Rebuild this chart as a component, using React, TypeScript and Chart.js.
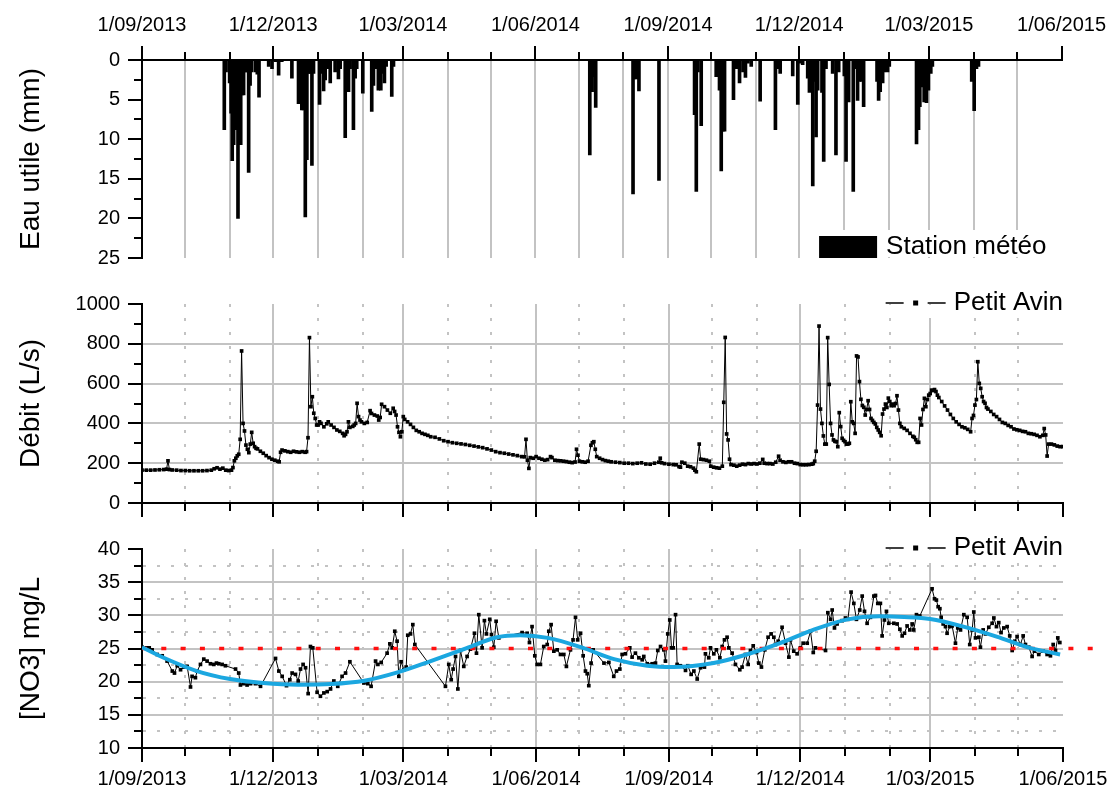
import React, { useEffect, useRef } from 'react';
import { Chart, registerables } from 'chart.js';

Chart.register(...registerables);

// ---------------- data (x = days since 1/09/2013) ----------------
const tickDays = [0, 30, 61, 91, 122, 153, 181, 212, 242, 273, 303, 334, 365, 395, 426, 456, 487, 518, 546, 577, 607, 638];
const tickLabels = ['1/09/2013', '', '', '1/12/2013', '', '', '1/03/2014', '', '', '1/06/2014', '', '', '1/09/2014', '', '', '1/12/2014', '', '', '1/03/2015', '', '', '1/06/2015'];

const rainDays = [57.1, 58.3, 60.8, 61.8, 62.6, 63.6, 64.5, 65.5, 66.6, 67.5, 68.5, 69.4, 70.5, 71.7, 72.6, 74, 75, 76, 78.7, 80, 81.2, 87.9, 90.2, 92.5, 94.8, 97, 104, 108.6, 109.8, 110.9, 112, 113.3, 114.4, 115.6, 116.7, 117.9, 119, 123.2, 124.3, 126, 127.1, 129.4, 130.6, 134, 136.3, 137.5, 141, 142.2, 143.3, 144.4, 146.7, 147.9, 149, 153.2, 159.4, 160.6, 162.4, 164, 165.7, 167.1, 168.2, 169.4, 173.3, 174.5,
  310.7, 312.3, 313.4, 314.8, 340.7, 341.8, 343, 344.8, 358.7, 383.4, 384.6, 385.7, 388, 398.4, 399.6, 400.7, 401.9, 403, 404.2, 410.4, 412.3, 414.6, 417, 418.7, 420.4, 422.7, 428.9, 439.5, 441.1, 442.8, 451.5, 455, 456.1, 458.4, 461.9, 463.1, 464.2, 465.4, 466.5, 467.7, 468.8, 471.8, 473, 474.6, 479.2, 481.5, 483.4, 487.3, 488.5, 490.3, 493.5, 494.9, 496.5, 497.7, 499.5, 500.7, 510, 511.1, 512.2, 513.9, 515, 517.3, 518.5, 537.4, 538.8, 539.7, 541.1, 542.7, 544.3, 545.7, 547.3, 548.4, 575.7, 577.4, 579, 580.4];
const rainMm = [8.8, 1.5, 2.9, 6.7, 12.7, 10.7, 8.8, 8.8, 20.0, 7.2, 10.7, 4.4, 4.4, 1.5, 1.5, 14.2, 3.2, 1.5, 1.5, 1.8, 4.7, 0.8, 1.1, 0.2, 1.9, 0.2, 2.3, 5.5, 4.4, 6.3, 6.3, 19.8, 12.6, 1.7, 1.7, 13.3, 1.7, 5.6, 1.7, 3.9, 2.5, 1.1, 2.9, 1.5, 2.4, 1.1, 9.8, 1.1, 4.0, 1.1, 8.8, 2.3, 1.1, 4.2, 6.5, 3.2, 1.1, 3.8, 3.8, 1.7, 2.9, 0.8, 4.6, 0.8,
  12.0, 4.0, 2.1, 6.0, 16.9, 2.4, 2.4, 3.9, 15.2, 6.9, 16.6, 1.5, 8.3, 2.1, 2.1, 3.8, 14.0, 9.0, 9.0, 5.0, 1.1, 2.9, 1.5, 2.2, 0.4, 0.8, 5.2, 8.8, 1.1, 1.7, 2.0, 5.6, 0.4, 0.6, 2.3, 4.1, 1.7, 15.9, 2.7, 9.7, 3.8, 4.1, 12.8, 1.1, 1.7, 12.0, 1.5, 2.0, 12.8, 5.3, 16.6, 1.1, 5.1, 2.7, 2.7, 5.9, 2.7, 5.1, 4.0, 2.9, 1.5, 1.5, 0.8, 10.6, 8.8, 5.9, 3.4, 5.3, 5.4, 3.8, 1.7, 0.8, 2.7, 6.4, 1.1, 0.8];
const rainTicks = [0, 2.5, 5, 7.5, 10, 12.5, 15, 17.5, 20, 22.5, 25];

const flowDays = [0, 3, 6, 9, 12, 15, 17, 18, 19, 21, 24, 27, 30, 33, 36, 39, 42, 45, 48, 50, 52, 54, 56, 58, 60, 62, 63, 64, 65, 66, 67, 68, 69, 70, 71, 72, 73, 74, 75, 76, 77, 78, 79, 80, 82, 84, 86, 88, 90, 92, 94, 95, 96, 97, 99, 101, 103, 105, 107, 109, 111, 113, 114, 115, 116, 117, 118, 119, 120, 121, 122, 123, 124, 126, 128, 129, 131, 133, 135, 137, 139, 140, 141, 142, 143, 144, 146, 147, 148, 149, 150, 151, 152, 154, 156, 158, 159, 161, 163, 164, 165, 166, 168, 170, 172, 174, 175, 176, 177, 178, 179, 180, 181, 182, 184, 186, 188, 190, 192, 194, 196, 198, 200, 203, 206, 209, 212, 215, 218, 221, 224, 227, 230, 233, 236, 239, 242, 245, 248, 251, 254, 257, 260, 263, 265, 266, 267, 268, 269, 271, 273, 275, 277, 279, 281, 283, 284, 286, 288, 290, 292, 294, 296, 298, 300, 301, 302, 303, 305, 307, 309, 311, 312, 313, 314, 315, 317, 319, 321, 323, 325, 328, 331, 334, 337, 340, 343, 346, 349, 352, 355, 358, 359, 360, 362, 365, 368, 370, 372, 373, 374, 376, 378, 380, 382, 383, 384, 386, 387, 389, 391, 393, 394, 396, 398, 400, 402, 403, 404, 405, 406, 407, 408, 410, 412, 414, 416, 418, 420, 422, 424, 426, 428, 430, 431, 433, 435, 437, 439, 441, 442, 444, 446, 448, 450, 452, 454, 456, 458, 460, 462, 464, 465, 466, 467, 468, 469, 470, 471, 472, 473, 474, 475, 476, 477, 478, 479, 480, 481, 482, 483, 484, 485, 486, 487, 488, 489, 490, 491, 492, 493, 494, 495, 496, 497, 498, 499, 500, 501, 502, 503, 504, 505, 506, 507, 508, 509, 510, 511, 512, 513, 514, 515, 516, 517, 518, 519, 520, 521, 522, 523, 524, 525, 526, 528, 530, 532, 534, 535, 536, 537, 538, 539, 540, 541, 542, 543, 544, 545, 546, 547, 548, 549, 550, 551, 552, 554, 556, 558, 560, 562, 564, 566, 568, 570, 572, 574, 575, 576, 577, 578, 579, 580, 581, 582, 583, 584, 585, 586, 588, 590, 592, 594, 596, 598, 600, 602, 604, 606, 608, 610, 612, 614, 616, 618, 620, 622, 624, 625, 626, 627, 628, 630, 632, 634, 636, 638];
const flowLs = [165, 165, 165, 166, 167, 168, 170, 212, 168, 166, 165, 163, 163, 162, 162, 162, 162, 163, 165, 172, 177, 170, 175, 165, 163, 165, 178, 212, 225, 237, 245, 320, 764, 400, 362, 291, 270, 253, 296, 355, 300, 283, 275, 272, 260, 250, 238, 228, 220, 215, 210, 207, 255, 266, 262, 258, 255, 260, 257, 255, 258, 255, 258, 328, 831, 484, 534, 451, 425, 392, 392, 408, 400, 383, 398, 408, 392, 380, 367, 360, 350, 338, 345, 358, 408, 380, 385, 392, 400, 501, 434, 417, 408, 400, 405, 464, 450, 442, 437, 417, 430, 496, 484, 467, 451, 476, 460, 442, 383, 355, 333, 358, 434, 420, 408, 395, 380, 365, 358, 350, 345, 340, 333, 330, 322, 313, 308, 303, 300, 297, 294, 290, 286, 282, 278, 272, 266, 258, 253, 250, 246, 242, 238, 233, 232, 320, 215, 174, 228, 225, 233, 225, 220, 215, 218, 233, 228, 215, 213, 212, 210, 208, 205, 203, 206, 270, 240, 210, 207, 205, 210, 290, 303, 308, 270, 233, 225, 218, 213, 210, 207, 205, 203, 200, 200, 198, 200, 202, 196, 195, 200, 205, 225, 202, 198, 195, 193, 192, 183, 180, 205, 200, 185, 182, 175, 165, 157, 296, 220, 218, 215, 210, 185, 180, 177, 175, 185, 506, 832, 347, 317, 220, 193, 190, 185, 190, 195, 193, 198, 196, 198, 196, 200, 219, 200, 198, 198, 196, 205, 235, 215, 207, 204, 207, 207, 200, 198, 193, 192, 192, 193, 195, 198, 210, 260, 492, 889, 472, 400, 337, 296, 296, 831, 596, 400, 342, 317, 310, 308, 283, 454, 384, 325, 315, 308, 296, 296, 300, 509, 408, 400, 350, 739, 734, 610, 521, 490, 481, 442, 470, 514, 470, 425, 415, 405, 397, 380, 367, 355, 338, 447, 472, 497, 480, 527, 510, 489, 497, 489, 500, 539, 467, 400, 383, 375, 365, 350, 335, 330, 318, 305, 305, 425, 392, 470, 526, 484, 520, 542, 550, 567, 565, 570, 560, 542, 530, 510, 488, 467, 445, 425, 408, 395, 383, 378, 370, 358, 425, 440, 492, 520, 710, 601, 576, 534, 510, 501, 480, 472, 460, 445, 434, 420, 405, 400, 390, 383, 372, 368, 365, 360, 358, 350, 348, 345, 340, 333, 340, 374, 342, 236, 296, 296, 292, 286, 283, 283];
const flowTicks = [0, 100, 200, 300, 400, 500, 600, 700, 800, 900, 1000];

const no3Days = [0, 3, 5, 7, 10.5, 14, 17.4, 21, 22.5, 24.4, 26.7, 29, 31.3, 33.6, 34.7, 37, 38.2, 40.5, 42.8, 45.1, 47.4, 49.7, 51.6, 53.2, 55.5, 57.8, 64.8, 67, 68.2, 70.5, 72.8, 75.2, 78.6, 82.1, 92.5, 94.8, 97.1, 100.1, 102.4, 104, 106.3, 108.2, 109.8, 111.6, 113.3, 115.1, 116.7, 118.3, 121.3, 123.6, 126, 128.3, 130.6, 132.9, 135.6, 138.6, 141, 144, 153.7, 156.4, 158.7, 161.8, 163.4, 165.7, 169.8, 171.7, 173.3, 175.1, 176.7, 177.9, 179.5, 181.4, 183, 184.1, 186, 187.6, 189, 210.2, 212.5, 214.2, 215.5, 217.2, 218.8, 220.6, 222.9, 225.2, 227.5, 230.3, 231.7, 233.3, 235.6, 237.2, 238.6, 240.9, 242.1, 243.7, 245.3, 247.2, 263.3, 266.8, 268.4, 270.2, 272.1, 273.7, 276, 278.3, 280.7, 281.8, 283.4, 285.3, 287.6, 289.9, 292.2, 294, 296.8, 298.6, 300.3, 301.8, 303.8, 305.6, 307.2, 308.4, 309.5, 311.1, 312.5, 320, 323.4, 326.8, 328.7, 331, 332.6, 334.9, 337.9, 339.5, 341.8, 344.2, 346.5, 347.6, 350, 353.4, 355.7, 357.3, 359.2, 361.5, 362.6, 364.2, 365.6, 366.8, 368, 369.6, 370.7, 373, 376.5, 378.1, 380.4, 382.3, 384.6, 386.9, 389.6, 390.3, 392.6, 393.8, 396.1, 397.9, 400.3, 401.9, 403.5, 405.3, 406.5, 408.8, 411.1, 414.1, 415.7, 418, 419.9, 421.5, 423.4, 425.7, 427.3, 429.1, 431.4, 433.7, 435.8, 437.7, 438.8, 440.7, 443.4, 445.8, 448.1, 449.2, 451.5, 453.8, 456.1, 458, 460.8, 463.1, 465, 466.5, 473.5, 475.1, 477, 478.1, 479.7, 481.5, 485, 487.3, 489, 491.2, 493.1, 494.9, 497.2, 498.9, 500.5, 502.3, 504.6, 507, 508.1, 509.7, 511.5, 512.7, 514.3, 515.7, 517.3, 520.8, 523.1, 525, 526.6, 528.2, 530, 531.9, 533.5, 534.6, 536.5, 538.8, 547.3, 549, 550.3, 551.5, 552.7, 553.6, 555, 556.6, 557.7, 559.6, 561.2, 563.5, 565.1, 567, 569.3, 571.6, 573.4, 575.1, 576.2, 577.4, 579.7, 580.8, 582.7, 584.3, 586.6, 588.9, 590.1, 591.9, 593.5, 595.1, 597, 599.3, 601.1, 602.8, 604.6, 606.2, 608.5, 610.4, 612, 614.3, 616.6, 618.2, 621.2, 624.2, 627, 629.3, 631.2, 632.8, 634.4, 635.8];
const no3Vals = [25.2, 25.1, 25.1, 24.8, 24.1, 23.9, 23.1, 21.6, 21.3, 22.4, 21.8, 22.2, 22.3, 19.2, 20.8, 20.6, 21.6, 22.6, 23.4, 23.1, 22.7, 22.6, 22.8, 22.7, 22.6, 22.4, 21.9, 21.3, 19.5, 19.7, 19.5, 19.7, 19.7, 19.3, 23.5, 21.6, 20.8, 19.4, 20.3, 21.3, 21.1, 20.1, 21.9, 22.6, 22.1, 18.2, 25.3, 25.1, 18.4, 17.8, 18.3, 18.5, 18.9, 20.1, 19.3, 20.8, 21.3, 23.0, 19.8, 19.7, 19.3, 23.1, 22.6, 22.9, 24.3, 25.7, 25.1, 27.6, 26.1, 20.8, 23.0, 21.8, 22.2, 27.0, 27.2, 28.6, 25.6, 19.3, 22.6, 20.3, 21.9, 23.8, 18.9, 24.7, 22.3, 23.8, 24.9, 27.3, 24.3, 30.1, 25.1, 29.2, 27.2, 29.4, 27.1, 25.2, 29.1, 26.6, 27.4, 27.3, 25.9, 28.3, 23.9, 22.6, 22.6, 25.3, 25.6, 27.6, 28.6, 24.6, 24.8, 24.1, 24.1, 22.3, 24.8, 26.3, 29.7, 26.3, 27.3, 23.9, 21.6, 21.2, 19.4, 22.8, 24.8, 22.8, 22.9, 20.8, 21.6, 21.9, 24.1, 24.2, 25.1, 23.7, 24.3, 23.6, 23.3, 23.8, 22.7, 22.7, 22.8, 24.7, 25.3, 24.8, 23.1, 27.2, 29.3, 25.1, 25.1, 30.1, 22.6, 22.4, 21.7, 22.4, 21.1, 21.6, 20.4, 22.1, 22.2, 24.2, 23.6, 25.1, 24.2, 24.8, 23.6, 25.3, 26.3, 26.7, 25.1, 24.3, 22.6, 21.8, 22.2, 24.1, 22.6, 24.7, 25.4, 24.4, 22.8, 22.2, 24.8, 26.7, 27.2, 26.7, 25.6, 26.1, 28.2, 25.8, 23.7, 26.3, 24.6, 24.2, 25.1, 25.8, 25.8, 27.6, 24.4, 25.1, 24.7, 30.4, 29.4, 30.8, 28.1, 28.7, 29.2, 29.6, 29.4, 33.5, 31.8, 29.4, 30.8, 32.9, 30.6, 28.8, 29.7, 32.9, 33.0, 31.8, 31.8, 26.9, 29.3, 30.6, 28.8, 28.8, 28.7, 27.9, 26.9, 27.3, 28.4, 27.8, 28.7, 27.8, 30.1, 29.9, 34.0, 32.5, 32.3, 31.3, 31.0, 29.7, 28.7, 28.3, 27.3, 28.3, 28.4, 25.8, 28.1, 27.8, 30.1, 29.7, 25.6, 27.8, 30.5, 26.6, 26.7, 25.2, 27.8, 27.2, 28.2, 28.8, 29.6, 28.3, 28.9, 27.4, 28.1, 28.3, 26.9, 24.7, 26.1, 26.8, 25.6, 26.9, 25.6, 25.2, 23.8, 24.6, 24.1, 24.6, 24.1, 23.9, 25.6, 24.7, 26.6, 25.9];
const fitDays = [0, 15, 38, 61, 84, 108, 131, 154, 177, 200, 223, 246, 262, 281, 304, 327, 350, 368, 396, 419, 442, 465, 488, 511, 528, 546, 569, 592, 615, 636];
const fitVals = [25.2, 23.6, 21.6, 20.4, 19.8, 19.55, 19.65, 20.15, 21.4, 23.1, 24.9, 26.7, 27.0, 26.6, 25.2, 23.4, 22.4, 22.2, 22.8, 24.1, 25.8, 27.8, 29.35, 29.85, 29.75, 29.45, 28.3, 26.8, 25.1, 24.1];
const thresholdDays = [0, 664];
const thresholdVals = [25, 25];
const no3Ticks = [10, 12.5, 15, 17.5, 20, 22.5, 25, 27.5, 30, 32.5, 35, 37.5, 40];

// ---------------- styles ----------------
const FONT = '"Liberation Sans", Arial, sans-serif';
const GRID = '#c3c3c3';
const NONE = 'rgba(0,0,0,0)';
const DOT = [3, 11];
const W = 1115;
const H = 789;

const zip = (xs: number[], ys: number[]) => xs.map((x, i) => ({ x, y: ys[i] }));
const isMajorDay = (v: number) => {
  const i = tickDays.indexOf(v);
  return i >= 0 && tickLabels[i] !== '';
};

function xAxis(position: 'top' | 'bottom', labels: boolean, dotted: boolean, height: number, padding: number) {
  const major = (c: any) => !!c.tick && isMajorDay(c.tick.value);
  return {
    type: 'linear',
    position,
    min: 0,
    max: 638,
    offset: false,
    afterBuildTicks: (s: any) => { s.ticks = tickDays.map((v) => ({ value: v })); },
    afterFit: (s: any) => { s.height = height; },
    ticks: {
      display: labels,
      autoSkip: false,
      maxRotation: 0,
      minRotation: 0,
      padding,
      color: '#000',
      font: { family: FONT, size: 20 },
      callback: (v: number) => { const i = tickDays.indexOf(v); return i >= 0 ? tickLabels[i] : ''; },
    },
    grid: {
      offset: false,
      lineWidth: 2,
      color: (c: any) => (!c.tick || c.tick.value === 0 || c.tick.value === 638 ? NONE : GRID),
      tickLength: 14,
      tickWidth: 2,
      tickColor: '#000',
      tickBorderDash: (c: any) => (major(c) ? [] : position === 'top' ? [0, 6, 8, 100] : [7, 100]),
    },
    border: {
      display: true,
      color: '#000',
      width: 2,
      dash: (c: any) => (dotted && c.tick && !major(c) ? DOT : []),
    },
  };
}

function yAxis(opts: {
  title: string; min: number; max: number; ticks: number[]; reverse?: boolean;
  isMajor: (v: number) => boolean; gridColor: (v: number) => string; dotted: (v: number) => boolean; chartArea: boolean;
}) {
  return {
    type: 'linear',
    position: 'left',
    min: opts.min,
    max: opts.max,
    reverse: !!opts.reverse,
    afterBuildTicks: (s: any) => { s.ticks = opts.ticks.map((v) => ({ value: v })); },
    afterFit: (s: any) => { s.width = 142; },
    ticks: {
      autoSkip: false,
      padding: 8,
      color: '#000',
      font: { family: FONT, size: 20 },
      callback: (v: number) => (opts.isMajor(v) ? String(v) : ''),
    },
    grid: {
      drawOnChartArea: opts.chartArea,
      lineWidth: 2,
      color: (c: any) => (c.tick ? opts.gridColor(c.tick.value) : NONE),
      tickLength: 14,
      tickWidth: 2,
      tickColor: '#000',
      tickBorderDash: (c: any) => (c.tick && opts.isMajor(c.tick.value) ? [] : [0, 6, 8, 100]),
    },
    border: {
      display: true,
      color: '#000',
      width: 2,
      dash: (c: any) => (c.tick && opts.dotted(c.tick.value) ? DOT : []),
    },
    title: {
      display: true,
      text: opts.title,
      color: '#000',
      font: { family: FONT, size: 28 },
      padding: { top: 14, bottom: 0 },
    },
  };
}

function lineLegend(id: string, text: string) {
  return {
    id,
    beforeDatasetsDraw(chart: any) {
      const { ctx, chartArea } = chart;
      ctx.save();
      ctx.font = `26px ${FONT}`;
      const w = ctx.measureText(text).width;
      const tx = chartArea.right - w;
      const y = chartArea.top - 1;
      ctx.fillStyle = '#fff';
      ctx.fillRect(tx - 75, chartArea.top + 1, chartArea.right - tx + 75, 13);
      ctx.fillStyle = '#000';
      ctx.textBaseline = 'middle';
      ctx.textAlign = 'left';
      ctx.fillText(text, tx, y);
      ctx.strokeStyle = '#000';
      ctx.lineWidth = 1.5;
      ctx.beginPath();
      ctx.moveTo(tx - 68, y);
      ctx.lineTo(tx - 50, y);
      ctx.moveTo(tx - 26, y);
      ctx.lineTo(tx - 8, y);
      ctx.stroke();
      ctx.fillRect(tx - 40.5, y - 2.5, 5, 5);
      ctx.restore();
    },
  };
}

const rainLegend = {
  id: 'rainLegend',
  beforeDatasetsDraw(chart: any) {
    const { ctx, chartArea } = chart;
    const text = 'Station météo';
    ctx.save();
    ctx.font = `26px ${FONT}`;
    const w = ctx.measureText(text).width;
    const tx = chartArea.right - 15 - w;
    ctx.fillStyle = '#fff';
    ctx.fillRect(tx - 73, chartArea.bottom - 28, chartArea.right - tx + 72, 27);
    ctx.fillStyle = '#000';
    ctx.fillRect(tx - 67, chartArea.bottom - 22, 58, 22);
    ctx.textBaseline = 'middle';
    ctx.textAlign = 'left';
    ctx.fillText(text, tx, chartArea.bottom - 11);
    ctx.restore();
  },
};

const common = {
  responsive: false,
  maintainAspectRatio: false,
  animation: false,
  devicePixelRatio: 1,
  events: [],
};

const pointStyle = {
  borderColor: '#000',
  borderWidth: 1,
  pointStyle: 'rect',
  pointRadius: 2.6,
  pointBorderWidth: 0,
  pointBackgroundColor: '#000',
  tension: 0,
};

export default function App() {
  const c1 = useRef<HTMLCanvasElement>(null);
  const c2 = useRef<HTMLCanvasElement>(null);
  const c3 = useRef<HTMLCanvasElement>(null);

  useEffect(() => {
    const rain = new Chart(c1.current as HTMLCanvasElement, {
      type: 'bar',
      data: {
        datasets: [{
          label: 'Station météo',
          data: zip(rainDays, rainMm),
          backgroundColor: '#000',
          borderWidth: 0,
          barThickness: 3,
        }],
      },
      options: {
        ...common,
        layout: { padding: { top: 0, left: 0, right: W - 1063, bottom: H - 258 } },
        plugins: { legend: { display: false }, tooltip: { enabled: false } },
        scales: {
          x: xAxis('top', true, false, 60, 9),
          y: yAxis({
            title: 'Eau utile (mm)', min: 0, max: 25, ticks: rainTicks, reverse: true,
            isMajor: (v) => v % 5 === 0, gridColor: () => NONE, dotted: () => false, chartArea: false,
          }),
        },
      } as any,
      plugins: [rainLegend],
    } as any);

    const flow = new Chart(c2.current as HTMLCanvasElement, {
      type: 'line',
      data: {
        datasets: [{ label: 'Petit Avin', data: zip(flowDays, flowLs), ...pointStyle }],
      },
      options: {
        ...common,
        layout: { padding: { top: 304, left: 0, right: W - 1063, bottom: H - 503 - 14 } },
        plugins: { legend: { display: false }, tooltip: { enabled: false } },
        scales: {
          x: xAxis('bottom', false, true, 14, 5),
          y: yAxis({
            title: 'Débit (L/s)', min: 0, max: 1000, ticks: flowTicks,
            isMajor: (v) => v % 200 === 0,
            gridColor: (v) => (v % 200 === 0 && v > 0 && v < 1000 ? GRID : NONE),
            dotted: () => false, chartArea: true,
          }),
        },
      } as any,
      plugins: [lineLegend('legendFlow', 'Petit Avin')],
    } as any);

    const no3 = new Chart(c3.current as HTMLCanvasElement, {
      type: 'line',
      data: {
        datasets: [
          {
            label: 'Tendance',
            data: zip(fitDays, fitVals),
            borderColor: '#1ba7e0',
            borderWidth: 4,
            pointRadius: 0,
            cubicInterpolationMode: 'monotone',
          },
          {
            label: 'Seuil',
            data: zip(thresholdDays, thresholdVals),
            borderColor: '#ff1010',
            borderWidth: 3.5,
            borderDash: [5, 14.3],
            pointRadius: 0,
            clip: false,
          },
          { label: 'Petit Avin', data: zip(no3Days, no3Vals), ...pointStyle },
        ],
      },
      options: {
        ...common,
        layout: { padding: { top: 549, left: 0, right: W - 1063, bottom: 0 } },
        plugins: { legend: { display: false }, tooltip: { enabled: false } },
        scales: {
          x: xAxis('bottom', true, true, H - 748, 5),
          y: yAxis({
            title: '[NO3] mg/L', min: 10, max: 40, ticks: no3Ticks,
            isMajor: (v) => v % 5 === 0,
            gridColor: (v) => (v > 10 && v < 40 ? GRID : NONE),
            dotted: (v) => v % 5 !== 0, chartArea: true,
          }),
        },
      } as any,
      plugins: [lineLegend('legendNo3', 'Petit Avin')],
    } as any);

    return () => {
      rain.destroy();
      flow.destroy();
      no3.destroy();
    };
  }, []);

  const cs: React.CSSProperties = { position: 'absolute', left: 0, top: 0, width: W, height: H };
  return (
    <div style={{ position: 'absolute', left: 0, top: 0, width: W, height: H, background: '#fff' }}>
      <canvas ref={c1} width={W} height={H} style={cs} />
      <canvas ref={c2} width={W} height={H} style={cs} />
      <canvas ref={c3} width={W} height={H} style={cs} />
    </div>
  );
}
